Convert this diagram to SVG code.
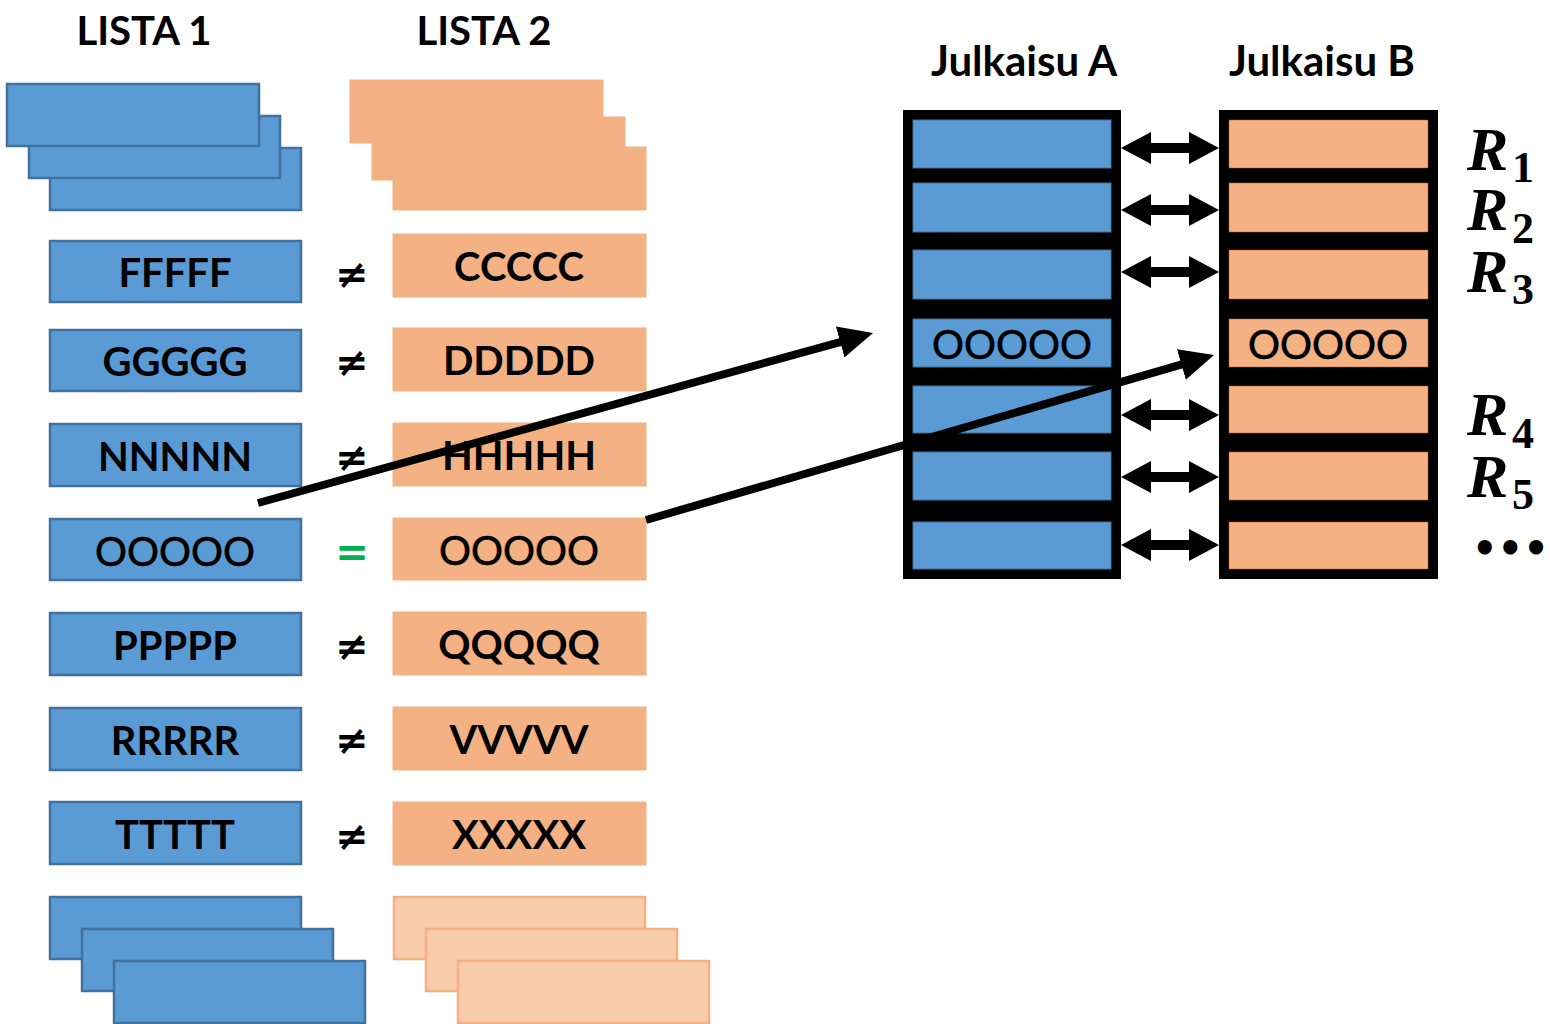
<svg xmlns="http://www.w3.org/2000/svg" width="1550" height="1024" viewBox="0 0 1550 1024">
<style>
.b{fill:#5B9BD5;stroke:#41719C;stroke-width:2.5}
.o{fill:#F4B183;stroke:#F4B183;stroke-width:1}
.ol{fill:#F7CBAC;stroke:#F4B183;stroke-width:2.5}
.t{font-family:Lato,"Open Sans","Liberation Sans",sans-serif;font-weight:bold;font-size:40px;text-anchor:middle;fill:#000}
.h{font-size:42px}
.tr{font-family:Lato,"Open Sans","Liberation Sans",sans-serif;font-weight:normal;font-size:40px;text-anchor:middle;fill:#000;stroke:#000;stroke-width:0.6}
.ne{font-family:"DejaVu Sans",sans-serif;font-weight:bold;font-size:40px;text-anchor:middle;fill:#000}
.eq{font-family:"DejaVu Sans",sans-serif;font-weight:bold;font-size:40px;text-anchor:middle;fill:#00B050}
.R{font-family:"Liberation Serif",serif;font-style:italic;font-weight:bold;font-size:62px;fill:#000}
.s{font-family:"Liberation Serif",serif;font-weight:bold;font-size:44px;fill:#000}
.ib{fill:#5B9BD5;stroke:#41719C;stroke-width:1}
.io{fill:#F4B183;stroke:#C55A11;stroke-width:0.5}
.ln{stroke:#000;stroke-width:8;fill:none}
</style>
<defs>
<marker id="ah" viewBox="0 0 34 32" refX="14" refY="16" markerWidth="34" markerHeight="32" markerUnits="userSpaceOnUse" orient="auto">
<path d="M0,0 L34,16 L0,32 Z" fill="#000"/>
</marker>
<path id="dbl" d="M1121,0 L1151,-16 L1151,-5 L1189,-5 L1189,-16 L1219,0 L1189,16 L1189,5 L1151,5 L1151,16 Z" fill="#000"/>
</defs>

<g id="headers">
<text class="t" x="144" y="45">LISTA 1</text>
<text class="t" x="484" y="45">LISTA 2</text>
<text class="t h" x="1024" y="76">Julkaisu A</text>
<text class="t h" x="1322" y="76">Julkaisu B</text>
</g>

<g id="lista1-top">
<rect class="b" x="50" y="148" width="251" height="62"/>
<rect class="b" x="29" y="116" width="251" height="62"/>
<rect class="b" x="7" y="84" width="252" height="62"/>
</g>
<g id="lista2-top">
<rect class="o" x="393" y="147" width="253" height="63"/>
<rect class="o" x="372" y="117" width="253" height="63"/>
<rect class="o" x="350" y="80" width="253" height="63"/>
</g>

<g id="l1-FFFFF"><rect class="b" x="50" y="241" width="251" height="61"/><text class="t" x="175" y="287">FFFFF</text></g>
<g id="l1-GGGGG"><rect class="b" x="50" y="330" width="251" height="61"/><text class="t" x="175" y="376">GGGGG</text></g>
<g id="l1-NNNNN"><rect class="b" x="50" y="424" width="251" height="62"/><text class="t" x="175" y="471">NNNNN</text></g>
<g id="l1-OOOOO"><rect class="b" x="50" y="519" width="251" height="61"/><text class="tr" x="175" y="566">OOOOO</text></g>
<g id="l1-PPPPP"><rect class="b" x="50" y="613" width="251" height="62"/><text class="t" x="175" y="660">PPPPP</text></g>
<g id="l1-RRRRR"><rect class="b" x="50" y="708" width="251" height="62"/><text class="t" x="175" y="755">RRRRR</text></g>
<g id="l1-TTTTT"><rect class="b" x="50" y="802" width="251" height="62"/><text class="t" x="175" y="849">TTTTT</text></g>

<g id="l2-CCCCC"><rect class="o" x="393" y="234" width="253" height="63"/><text class="t" x="519" y="281">CCCCC</text></g>
<g id="l2-DDDDD"><rect class="o" x="393" y="328" width="253" height="63"/><text class="t" x="519" y="375">DDDDD</text></g>
<g id="l2-HHHHH"><rect class="o" x="393" y="423" width="253" height="63"/><text class="t" x="519" y="470">HHHHH</text></g>
<g id="l2-OOOOO"><rect class="o" x="393" y="518" width="253" height="62"/><text class="tr" x="519" y="565">OOOOO</text></g>
<g id="l2-QQQQQ"><rect class="o" x="393" y="612" width="253" height="63"/><text class="t" x="519" y="659">QQQQQ</text></g>
<g id="l2-VVVVV"><rect class="o" x="393" y="707" width="253" height="63"/><text class="t" x="519" y="754">VVVVV</text></g>
<g id="l2-XXXXX"><rect class="o" x="393" y="802" width="253" height="63"/><text class="t" x="519" y="849">XXXXX</text></g>

<g id="relations">
<text class="ne" x="352" y="288">≠</text>
<text class="ne" x="352" y="376">≠</text>
<text class="ne" x="352" y="471">≠</text>
<text class="eq" x="352" y="566">=</text>
<text class="ne" x="352" y="660">≠</text>
<text class="ne" x="352" y="754">≠</text>
<text class="ne" x="352" y="850">≠</text>
</g>

<g id="lista1-bottom">
<rect class="b" x="50" y="897" width="251" height="62"/>
<rect class="b" x="82" y="929" width="251" height="62"/>
<rect class="b" x="114" y="961" width="251" height="62"/>
</g>
<g id="lista2-bottom">
<rect class="ol" x="394" y="897" width="251" height="62"/>
<rect class="ol" x="426" y="929" width="251" height="62"/>
<rect class="ol" x="458" y="961" width="251" height="62"/>
</g>

<g id="julkaisu-a">
<rect x="903" y="110" width="218" height="469" fill="#000"/>
<rect class="ib" x="913" y="120" width="198" height="48"/>
<rect class="ib" x="913" y="183" width="198" height="49"/>
<rect class="ib" x="913" y="250" width="198" height="49"/>
<rect class="ib" x="913" y="319" width="198" height="48"/>
<rect class="ib" x="913" y="386" width="198" height="47"/>
<rect class="ib" x="913" y="452" width="198" height="48"/>
<rect class="ib" x="913" y="522" width="198" height="47"/>
<text class="tr" x="1012" y="359">OOOOO</text>
</g>
<g id="julkaisu-b">
<rect x="1219" y="110" width="219" height="469" fill="#000"/>
<rect class="io" x="1229" y="120" width="199" height="48"/>
<rect class="io" x="1229" y="183" width="199" height="49"/>
<rect class="io" x="1229" y="250" width="199" height="49"/>
<rect class="io" x="1229" y="319" width="199" height="48"/>
<rect class="io" x="1229" y="386" width="199" height="47"/>
<rect class="io" x="1229" y="452" width="199" height="48"/>
<rect class="io" x="1229" y="522" width="199" height="47"/>
<text class="tr" x="1328" y="359">OOOOO</text>
</g>

<g id="r-labels">
<text class="R" x="1467" y="170">R</text><text class="s" x="1512" y="182">1</text>
<text class="R" x="1467" y="230">R</text><text class="s" x="1512" y="243">2</text>
<text class="R" x="1467" y="292">R</text><text class="s" x="1512" y="304">3</text>
<text class="R" x="1467" y="435">R</text><text class="s" x="1512" y="448">4</text>
<text class="R" x="1467" y="497">R</text><text class="s" x="1512" y="509">5</text>
<text class="s" x="1472" y="562" style="font-family:'DejaVu Sans',sans-serif;font-size:40px">•••</text>
</g>

<g id="connectors">
<line class="ln" x1="258" y1="503" x2="853.7" y2="338.3" marker-end="url(#ah)"/>
<line class="ln" x1="646" y1="520" x2="1194.8" y2="360.6" marker-end="url(#ah)"/>
<use href="#dbl" y="148"/>
<use href="#dbl" y="210"/>
<use href="#dbl" y="272"/>
<use href="#dbl" y="415"/>
<use href="#dbl" y="477"/>
<use href="#dbl" y="545"/>
</g>
</svg>
